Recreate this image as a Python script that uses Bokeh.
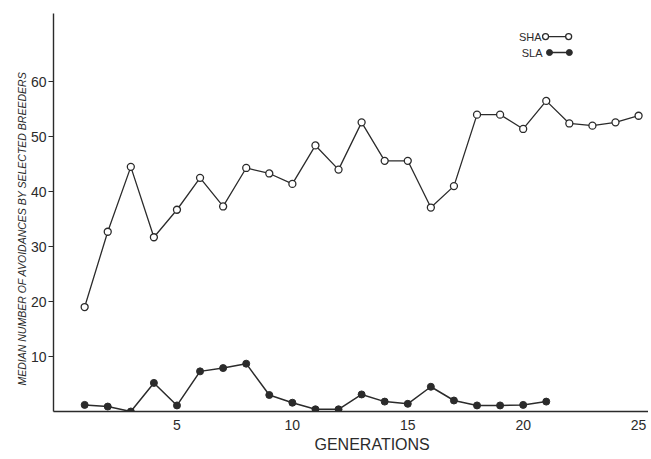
from bokeh.plotting import figure
from bokeh.models import Range1d, FixedTicker, Label, Title
from bokeh.embed import file_html
from bokeh.resources import INLINE

# ---- data ----
sha_gen = list(range(1, 26))
sha_val = [19.0, 32.7, 44.5, 31.7, 36.7, 42.5, 37.3, 44.3, 43.3, 41.4,
           48.4, 44.0, 52.6, 45.6, 45.6, 37.1, 41.0, 54.0, 54.0, 51.4,
           56.5, 52.4, 52.0, 52.6, 53.8]
sla_gen = list(range(1, 22))
sla_val = [1.2, 0.9, 0.0, 5.2, 1.1, 7.3, 7.9, 8.7, 3.0, 1.6,
           0.4, 0.4, 3.1, 1.8, 1.4, 4.5, 2.0, 1.1, 1.1, 1.2, 1.8]
x_ticks = [5, 10, 15, 20, 25]
y_ticks = [10, 20, 30, 40, 50, 60]
legend_names = ["SHA", "SLA"]
x_title = "GENERATIONS"
y_title = "MEDIAN NUMBER OF AVOIDANCES BY SELECTED BREEDERS"

INK = "#2b2b2b"
FONT = "Liberation Sans"

p = figure(width=648, height=455, x_range=Range1d(-0.35, 25.43),
           y_range=Range1d(0, 72.4), output_backend="svg",
           toolbar_location=None, min_border_left=53, min_border_right=0,
           min_border_top=13, min_border_bottom=44)
p.outline_line_color = None
p.xgrid.visible = False
p.ygrid.visible = False
p.background_fill_color = "white"

for ax in (p.xaxis, p.yaxis):
    ax.axis_line_color = INK
    ax.axis_line_width = 1.4
    ax.major_tick_line_color = INK
    ax.major_tick_line_width = 1.2
    ax.minor_tick_line_color = None
    ax.major_label_text_font = FONT
    ax.major_label_text_font_size = "14px"
    ax.major_label_text_color = INK

p.xaxis.ticker = FixedTicker(ticks=x_ticks)
p.xaxis.major_tick_out = 0
p.xaxis.major_tick_in = 0
p.xaxis.major_label_standoff = 8
p.yaxis.ticker = FixedTicker(ticks=y_ticks)
p.yaxis.major_tick_out = 5
p.yaxis.major_tick_in = 0
p.yaxis.major_label_standoff = 2

# series
p.line(sha_gen, sha_val, line_color=INK, line_width=1.3)
p.scatter(sha_gen, sha_val, size=7, marker="circle", fill_color="white",
          line_color=INK, line_width=1.3)
p.line(sla_gen, sla_val, line_color=INK, line_width=1.5)
p.scatter(sla_gen, sla_val, size=7, marker="circle", fill_color=INK,
          line_color=INK)

# hand-drawn style legend (label then glyph)
lx = [20.97, 21.97]
p.line(lx, [68.2, 68.2], line_color=INK, line_width=1.3)
p.scatter(lx, [68.2, 68.2], size=6, fill_color="white", line_color=INK,
          line_width=1.3)
lx2 = [21.14, 22.0]
p.line(lx2, [65.3, 65.3], line_color=INK, line_width=1.5)
p.scatter(lx2, [65.3, 65.3], size=6, fill_color=INK, line_color=INK)
p.add_layout(Label(x=20.8, y=68.2, text=legend_names[0], text_align="right",
                   text_baseline="middle", text_font=FONT,
                   text_font_size="11px", text_color=INK))
p.add_layout(Label(x=20.84, y=65.3, text=legend_names[1], text_align="right",
                   text_baseline="middle", text_font=FONT,
                   text_font_size="11px", text_color=INK))

# axis titles (offset from frame start, as in the original)
p.add_layout(Title(text=x_title, align="left", offset=261, standoff=2,
                   text_font=FONT, text_font_style="normal",
                   text_font_size="16px", text_color=INK), "below")
p.add_layout(Title(text=y_title, align="left", offset=26, standoff=0,
                   text_font=FONT, text_font_style="italic",
                   text_font_size="10.5px", text_color=INK), "left")

open("out.html", "w").write(file_html(p, INLINE))
